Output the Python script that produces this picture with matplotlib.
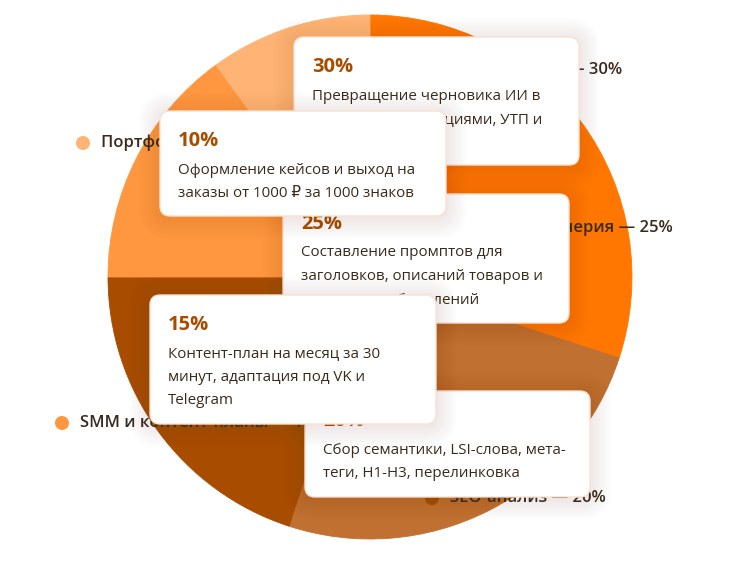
import matplotlib
matplotlib.use("Agg")
import matplotlib.pyplot as plt
from matplotlib.patches import FancyBboxPatch, Circle

plt.rcParams["font.family"] = ["Open Sans", "DejaVu Sans"]

# data
shares = [30, 25, 20, 15, 10]
slice_colors = ["#FF7700", "#C07030", "#A84C00", "#FF9640", "#FFB374"]
labels = ["Редактура текстов", "Промпт-инженерия", "SEO-анализ",
          "SMM и контент-планы", "Портфолио"]
card_texts = [
    ["Превращение черновика ИИ в", "живой текст с эмоциями, УТП и", "призывами"],
    ["Составление промптов для", "заголовков, описаний товаров и", "рекламных объявлений"],
    ["Сбор семантики, LSI-слова, мета-", "теги, H1-H3, перелинковка"],
    ["Контент-план на месяц за 30", "минут, адаптация под VK и", "Telegram"],
    ["Оформление кейсов и выход на", "заказы от 1000 ₽ за 1000 знаков"],
]

# layout (pixel coords, y from top)
W, H = 746, 566
pie_center = (370, 277)
pie_radius = 262
# label anchor: (x, y, align) -- 'left' = dot x, 'right' = text end x
label_pos = [(622, 70, "right"), (673, 228, "right"), (432, 498, "left"),
             (62, 423, "left"), (83, 143, "left")]
card_boxes = [(294, 37, 579, 165), (283, 194, 569, 323), (305, 391, 590, 497),
              (150, 295, 436, 424), (160, 111, 446, 216)]
card_z = [30, 40, 50, 70, 60]

TEXT_DARK = "#3A2A1C"
HEAD = "#A84C00"


def Y(y):
    return H - y


fig = plt.figure(figsize=(W / 100, H / 100), dpi=100)
ax = fig.add_axes([0, 0, 1, 1])

wedges, _ = ax.pie(shares, colors=slice_colors, startangle=90, counterclock=False,
                   center=(pie_center[0], Y(pie_center[1])), radius=pie_radius,
                   frame=True)
for wdg, col in zip(wedges, slice_colors):
    wdg.set_edgecolor(col)
    wdg.set_linewidth(0.6)
ax.set_xlim(0, W)
ax.set_ylim(0, H)
ax.set_aspect("equal")
ax.axis("off")

# outside labels with dots
fig.canvas.draw()
renderer = fig.canvas.get_renderer()
for (x, y, align), name, val, col in zip(label_pos, labels, shares, slice_colors):
    s = f"{name} — {val}%"
    if align == "left":
        ax.add_patch(Circle((x, Y(y)), 7, color=col, zorder=5, lw=0))
        ax.text(x + 18, Y(y), s, fontsize=12, fontweight="semibold",
                color=TEXT_DARK, va="center", ha="left", zorder=5)
    else:
        t = ax.text(x, Y(y), s, fontsize=12, fontweight="semibold",
                    color=TEXT_DARK, va="center", ha="right", zorder=5)
        bb = t.get_window_extent(renderer)
        ax.add_patch(Circle((bb.x0 - 18, Y(y)), 7, color=col, zorder=5, lw=0))

# tooltip cards
for (x0, y0, x1, y1), val, lines, z in zip(card_boxes, shares, card_texts, card_z):
    w, h = x1 - x0, y1 - y0
    for i in range(12):
        pad = 1 + i * 1.8
        ax.add_patch(FancyBboxPatch((x0 - pad + 10, Y(y1) - pad - 2 + 10),
                                    w + 2 * pad - 20, h + 2 * pad - 20,
                                    boxstyle=f"round,pad=10,rounding_size={10 + pad}",
                                    fc="#7A4A20", ec="none", alpha=0.007, zorder=z))
    ax.add_patch(FancyBboxPatch((x0 + 10, Y(y1) + 10), w - 20, h - 20,
                                boxstyle="round,pad=10,rounding_size=10",
                                fc="white", ec="#F6E2D2", lw=1.0, zorder=z + 1))
    ax.text(x0 + 18, Y(y0 + 30), f"{val}%", fontsize=14.5, fontweight="bold",
            color=HEAD, va="center", ha="left", zorder=z + 2)
    for k, line in enumerate(lines):
        ax.text(x0 + 18, Y(y0 + 59 + 23.5 * k), line, fontsize=10.9,
                color=TEXT_DARK, va="center", ha="left", zorder=z + 2)

fig.savefig("out.png", dpi=100)
